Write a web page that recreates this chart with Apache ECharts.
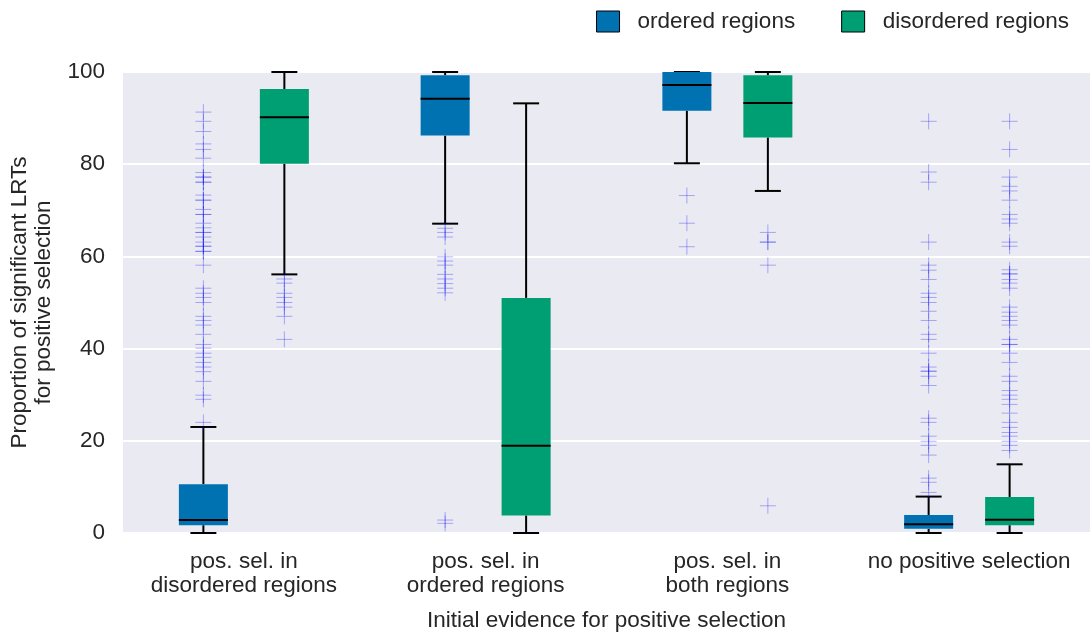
<!DOCTYPE html>
<html>
<head>
<meta charset="utf-8">
<script src="https://cdn.jsdelivr.net/npm/echarts@6/dist/echarts.min.js"></script>
<style>html,body{margin:0;padding:0;background:#fff}#c{width:1090px;height:633px}</style>
</head>
<body>
<div id="c"></div>
<script>
var categories = ['pos. sel. in\ndisordered regions', 'pos. sel. in\nordered regions', 'pos. sel. in\nboth regions', 'no positive selection'];
var seriesNames = ['ordered regions', 'disordered regions'];
var yTicks = [0, 20, 40, 60, 80, 100];
// [lower whisker, Q1, median, Q3, upper whisker]
var orderedStats = [
  [0, 1.7, 2.8, 10.6, 23],
  [67.1, 86.2, 94.2, 99.3, 100],
  [80.2, 91.6, 97.2, 100, 100],
  [0, 0.9, 1.9, 3.9, 7.9]
];
var disorderedStats = [
  [56.1, 80.1, 90.2, 96.3, 100],
  [0, 3.8, 18.9, 51.0, 93.2],
  [74.2, 85.8, 93.3, 99.3, 100],
  [0, 1.7, 2.9, 7.8, 14.9]
];
var orderedOutliers = [
  [91.3, 89.3, 87.1, 84.4, 83.2, 81.3, 78.2, 77.2, 77.2, 76.1, 76.1, 73.3, 72.2, 72.2, 70.2, 69.1, 69.1, 67.2, 66.2, 65.2, 65.2, 64.2, 63.1, 62.2, 62.2, 61.1, 61.1, 58.1, 53.1, 52.0, 51.1, 50.0, 47.0, 46.1, 45.1, 43.1, 40.9, 40.1, 39.0, 38.1, 37.0, 36.0, 35.0, 32.9, 29.9, 29.0, 24.0],
  [66.1, 65.2, 64.2, 59.9, 59.0, 58.1, 56.1, 55.1, 54.1, 53.1, 52.1, 2.8, 2.1],
  [73.2, 67.2, 62.1],
  [89.3, 78.3, 76.1, 63.1, 58.1, 57.0, 55.0, 52.0, 51.1, 50.0, 48.1, 46.1, 43.1, 42.0, 39.0, 36.0, 35.1, 35.1, 34.0, 32.0, 24.9, 24.0, 21.0, 19.9, 19.0, 16.9, 11.9, 11.0, 8.8]
];
var disorderedOutliers = [
  [55.1, 54.2, 52.0, 51.1, 50.0, 49.0, 47.0, 42.0],
  [],
  [65.2, 63.1, 63.1, 58.1, 5.9],
  [89.3, 83.2, 77.2, 75.2, 74.2, 72.2, 69.1, 68.1, 67.2, 63.1, 62.2, 57.1, 56.2, 56.2, 55.0, 54.2, 53.1, 49.0, 47.9, 47.0, 46.1, 45.1, 42.0, 40.9, 40.9, 39.0, 37.0, 34.0, 32.9, 30.9, 29.9, 29.0, 27.9, 26.0, 24.0, 22.9, 21.8, 21.0, 19.9, 19.0, 17.9]
];
var colors = ['#0072B2', '#009E73'];

function boxData(stats) {
  return stats.map(function (s, i) { return [i].concat(s); });
}
function outlierData(outs) {
  var d = [];
  outs.forEach(function (arr, i) { arr.forEach(function (v) { d.push([i, v]); }); });
  return d;
}

var OFFSET = 0.1675, BOXW = 0.2027, CAPW = 0.1075;

function makeBoxRender(sign, color) {
  return function (params, api) {
    var ci = api.value(0);
    var band = api.size([1, 0])[0];
    var cx = api.coord([ci, 0])[0] + sign * band * OFFSET;
    var yLo = api.coord([ci, api.value(1)])[1];
    var yQ1 = api.coord([ci, api.value(2)])[1];
    var yMed = api.coord([ci, api.value(3)])[1];
    var yQ3 = api.coord([ci, api.value(4)])[1];
    var yHi = api.coord([ci, api.value(5)])[1];
    var bw = band * BOXW, cw = band * CAPW;
    var ls = { stroke: '#000', lineWidth: 2 };
    return {
      type: 'group',
      children: [
        { type: 'line', shape: { x1: cx, y1: yQ3, x2: cx, y2: yHi }, style: ls },
        { type: 'line', shape: { x1: cx, y1: yQ1, x2: cx, y2: yLo }, style: ls },
        { type: 'line', shape: { x1: cx - cw / 2, y1: yHi, x2: cx + cw / 2, y2: yHi }, style: ls },
        { type: 'line', shape: { x1: cx - cw / 2, y1: yLo, x2: cx + cw / 2, y2: yLo }, style: ls },
        { type: 'rect', shape: { x: cx - bw / 2, y: yQ3, width: bw, height: yQ1 - yQ3 }, style: { fill: color } },
        { type: 'line', shape: { x1: cx - bw / 2, y1: yMed, x2: cx + bw / 2, y2: yMed }, style: ls }
      ]
    };
  };
}
function makeOutlierRender(sign) {
  return function (params, api) {
    var ci = api.value(0);
    var band = api.size([1, 0])[0];
    var p = api.coord([ci, api.value(1)]);
    var cx = p[0] + sign * band * OFFSET, cy = p[1];
    var h = 8;
    var st = { stroke: 'rgba(0,0,255,0.3)', lineWidth: 1 };
    return {
      type: 'group',
      children: [
        { type: 'line', shape: { x1: cx - h, y1: cy, x2: cx + h, y2: cy }, style: st },
        { type: 'line', shape: { x1: cx, y1: cy - h, x2: cx, y2: cy + h }, style: st }
      ]
    };
  };
}

var FONT = '"Liberation Sans", Arial, sans-serif';
var TXT = '#262626';
var FS = 22.5;
var chart = echarts.init(document.getElementById('c'), null, { renderer: 'canvas' });
chart.setOption({
  animation: false,
  textStyle: { fontFamily: FONT },
  grid: { left: 123, right: 0, top: 72, bottom: 100, show: true, backgroundColor: '#EAEAF2', borderWidth: 0, outerBoundsMode: 'none', containLabel: false },
  legend: {
    top: 10, right: 21, padding: 0, itemWidth: 23, itemHeight: 21, itemGap: 46,
    textStyle: { fontSize: FS, color: TXT, fontFamily: FONT, padding: [0, 0, 0, 13] },
    data: [
      { name: seriesNames[0], icon: 'rect', itemStyle: { color: colors[0], borderColor: '#000', borderWidth: 1 } },
      { name: seriesNames[1], icon: 'rect', itemStyle: { color: colors[1], borderColor: '#000', borderWidth: 1 } }
    ]
  },
  xAxis: {
    type: 'category', data: categories,
    axisLine: { show: false }, axisTick: { show: false }, splitLine: { show: false },
    axisLabel: { interval: 0, fontSize: FS, color: TXT, lineHeight: 24, margin: 17, fontFamily: FONT },
    name: 'Initial evidence for positive selection', nameLocation: 'middle', nameGap: 76,
    nameTextStyle: { fontSize: FS, color: TXT, fontFamily: FONT }
  },
  yAxis: {
    type: 'value', min: yTicks[0], max: yTicks[yTicks.length - 1], interval: 20,
    axisLine: { show: false }, axisTick: { show: false },
    splitLine: { show: true, lineStyle: { color: '#ffffff', width: 2 } },
    axisLabel: { fontSize: FS, color: TXT, margin: 18, fontFamily: FONT },
    name: 'Proportion of significant LRTs\nfor positive selection', nameLocation: 'middle', nameGap: 67,
    nameTextStyle: { fontSize: FS, color: TXT, lineHeight: 24, fontFamily: FONT }
  },
  series: [
    { name: seriesNames[0], type: 'custom', clip: false, itemStyle: { color: colors[0] }, renderItem: makeBoxRender(-1, colors[0]), data: boxData(orderedStats), encode: { x: 0, y: [1, 2, 3, 4, 5] }, z: 3 },
    { name: seriesNames[1], type: 'custom', clip: false, itemStyle: { color: colors[1] }, renderItem: makeBoxRender(1, colors[1]), data: boxData(disorderedStats), encode: { x: 0, y: [1, 2, 3, 4, 5] }, z: 3 },
    { name: 'ordered outliers', type: 'custom', clip: false, renderItem: makeOutlierRender(-1), data: outlierData(orderedOutliers), encode: { x: 0, y: 1 }, z: 4 },
    { name: 'disordered outliers', type: 'custom', clip: false, renderItem: makeOutlierRender(1), data: outlierData(disorderedOutliers), encode: { x: 0, y: 1 }, z: 4 }
  ]
});
</script>
</body>
</html>
